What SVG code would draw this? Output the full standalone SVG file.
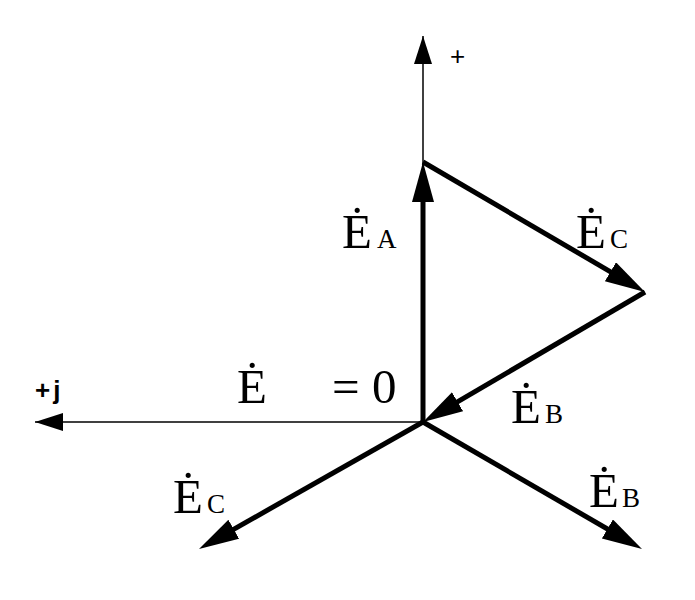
<svg xmlns="http://www.w3.org/2000/svg" width="695" height="600" viewBox="0 0 695 600">
<style>
.ax{stroke:#000;stroke-width:1.5;fill:none}
.vec{stroke:#000;stroke-width:5;fill:none}
.e{font-family:"Liberation Serif","Times New Roman",serif;font-size:49px;fill:#000}
.s{font-family:"Liberation Serif","Times New Roman",serif;font-size:27px;fill:#000}
.lbl{font-family:"Liberation Sans",Arial,sans-serif;fill:#000}
</style>
<defs>
<marker id="thin" markerUnits="userSpaceOnUse" markerWidth="30" markerHeight="20" refX="28" refY="9" orient="auto" viewBox="0 0 30 20"><path d="M0,0 L28,9 L0,18 z" fill="#000"/></marker>
<marker id="thick" markerUnits="userSpaceOnUse" markerWidth="42" markerHeight="24" refX="20" refY="11" orient="auto" viewBox="0 0 42 24"><path d="M0,0 L40,11 L0,22 z" fill="#000"/></marker>
</defs>
<g id="connectors">
<line id="axis-real" class="ax" x1="423" y1="422" x2="423" y2="36" marker-end="url(#thin)"/>
<line id="axis-imag" class="ax" x1="423" y1="422" x2="35" y2="422" marker-end="url(#thin)"/>
<line id="EA" class="vec" x1="423" y1="422" x2="423" y2="182" marker-end="url(#thick)"/>
<line id="EC-top" class="vec" x1="423" y1="162" x2="627.7" y2="281.9" marker-end="url(#thick)"/>
<line id="EB-tri" class="vec" x1="645" y1="292" x2="440.3" y2="411.9" marker-end="url(#thick)"/>
<line id="EC-bottom" class="vec" x1="423" y1="422" x2="216.4" y2="539.1" marker-end="url(#thick)"/>
<line id="EB-bottom" class="vec" x1="423" y1="422" x2="624.7" y2="539" marker-end="url(#thick)"/>
</g>
<g id="label-plus"><text class="lbl" x="450" y="65" font-size="26">+</text></g>
<g id="label-plusj"><text class="lbl" x="35" y="399" font-size="26" font-weight="bold" letter-spacing="3">+j</text></g>
<g id="label-EA"><text class="e" x="342" y="248">Ė</text><text class="s" x="377" y="248">A</text></g>
<g id="label-EC-top"><text class="e" x="576" y="248">Ė</text><text class="s" x="610" y="248">C</text></g>
<g id="label-sum"><text class="e" x="237" y="403">Ė</text><text class="e" x="332" y="403">= 0</text></g>
<g id="label-EB-tri"><text class="e" x="511" y="423">Ė</text><text class="s" x="545" y="423">B</text></g>
<g id="label-EC-bottom"><text class="e" x="173" y="513">Ė</text><text class="s" x="207" y="513">C</text></g>
<g id="label-EB-bottom"><text class="e" x="589" y="507">Ė</text><text class="s" x="622" y="507">B</text></g>
</svg>
